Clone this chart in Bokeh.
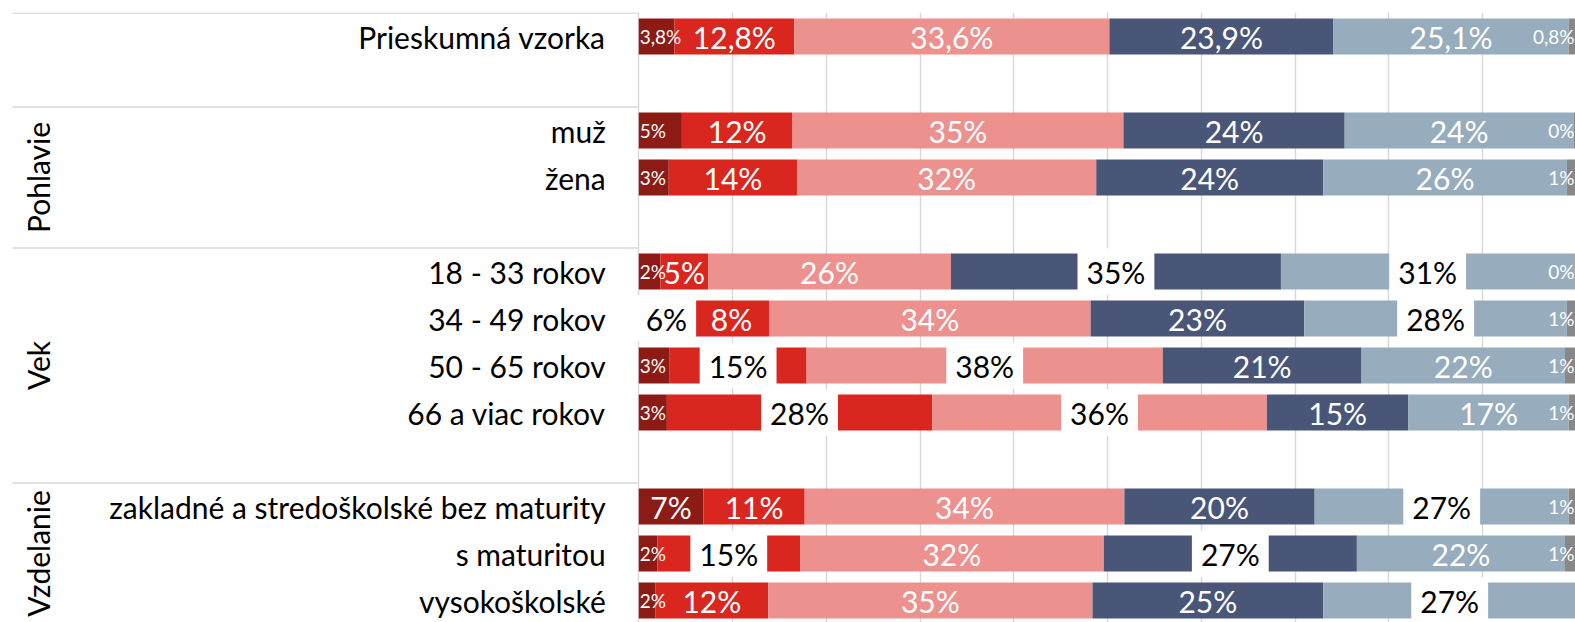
import math
from bokeh.plotting import figure
from bokeh.models import Range1d, Grid, FixedTicker
from bokeh.core.properties import value
from bokeh.embed import file_html
from bokeh.resources import INLINE

# ---------------- data ----------------
categories = [
    "Prieskumná vzorka",
    "muž", "žena",
    "18 - 33 rokov", "34 - 49 rokov", "50 - 65 rokov", "66 a viac rokov",
    "zakladné a stredoškolské bez maturity", "s maturitou", "vysokoškolské",
]
group_names = ["", "Pohlavie", "Vek", "Vzdelanie"]
group_sizes = [1, 2, 4, 3]

series_1 = [3.8, 4.6, 3.2, 2.3, 5.9, 3.3, 3.0, 6.9, 2.0, 1.8]
series_2 = [12.8, 11.8, 13.7, 5.1, 8.0, 14.6, 28.3, 10.8, 15.2, 12.0]
series_3 = [33.6, 35.3, 31.9, 25.9, 34.3, 38.0, 35.7, 34.1, 32.4, 34.6]
series_4 = [23.9, 23.6, 24.2, 35.2, 22.8, 21.2, 15.1, 20.3, 27.0, 24.6]
series_5 = [25.1, 24.4, 26.0, 31.3, 28.0, 21.7, 17.1, 27.1, 22.2, 27.0]
series_6 = [0.8, 0.3, 1.0, 0.2, 1.0, 1.2, 0.8, 0.8, 1.2, 0.0]
label_decimals = [1, 0, 0, 0, 0, 0, 0, 0, 0, 0]

# labels shown in black on a white box: (row index, series index)
boxed_labels = [(3, 3), (3, 4), (4, 0), (4, 4), (5, 1), (5, 2), (6, 1), (6, 2),
                (7, 4), (8, 1), (8, 3), (9, 4)]

series = [series_1, series_2, series_3, series_4, series_5, series_6]
colors = ["#8C1A15", "#D9261F", "#EC918E", "#4A5677", "#97ADBD", "#888888"]

# ---------------- layout ----------------
W, H = 1575, 622
PX = 9.375            # pixels per percent
LEFT_PX = 638.25      # width of the label area
SLOT = 47.0           # pixels per row slot
TOP = 12
X_START = -LEFT_PX / PX
X_END = (W - LEFT_PX) / PX
Y_START = -24.0 / SLOT
Y_END = Y_START + (H - TOP) / SLOT

slots, spans = [], []
s = 0
for gi, n in enumerate(group_sizes):
    slots += list(range(s, s + n))
    end = s + n + (1 if gi < len(group_sizes) - 1 else 0)
    spans.append((s - 0.5, end - 0.5))
    s = end

p = figure(width=W, height=H, x_range=Range1d(X_START, X_END),
           y_range=Range1d(Y_END, Y_START), x_axis_type=None, y_axis_type=None,
           toolbar_location=None, output_backend="svg",
           min_border_left=0, min_border_right=0, min_border_top=TOP,
           min_border_bottom=0, outline_line_color=None,
           background_fill_color="white", border_fill_color="white")

grid = Grid(dimension=0, ticker=FixedTicker(ticks=[0, 10, 20, 30, 40, 50, 60, 70, 80, 90]),
            grid_line_color="#D9D9D9", grid_line_width=1.5)
p.add_layout(grid)

# separators of the category groups
sep_y = [a for a, b in spans]
p.segment(x0=[X_START + 12 / PX] * len(sep_y), x1=[0] * len(sep_y), y0=sep_y, y1=sep_y,
          line_color="#D9D9D9", line_width=1.5)

# bars
cum = [0.0] * len(categories)
big, small_l, small_r, boxed = ([], [], []), ([], [], []), ([], [], []), ([], [], [])
for k, vals in enumerate(series):
    left = list(cum)
    right = [a + b for a, b in zip(cum, vals)]
    p.hbar(y=slots, left=left, right=right, height=36 / SLOT, fill_color=colors[k],
           line_color=None)
    for r, v in enumerate(vals):
        if v <= 0:
            continue
        if label_decimals[r]:
            txt = f"{v:.{label_decimals[r]}f}".replace(".", ",") + "%"
        else:
            txt = f"{round(v)}%"
        c = (left[r] + right[r]) / 2
        if (r, k) in boxed_labels:
            tgt = boxed
        elif k in (0, 5) and v < 6:
            if k == 0:
                tgt, c = small_l, 0
            else:
                tgt, c = small_r, X_END
        else:
            tgt = big
        tgt[0].append(c); tgt[1].append(slots[r]); tgt[2].append(txt)
    cum = right

font = value("Lato")
BIG = value("30px")
SMALL = value("19px")
p.text(x=big[0], y=big[1], text=big[2], text_align="center", text_baseline="middle",
       text_color="white", text_font=font, text_font_size=BIG)
p.text(x=small_l[0], y=small_l[1], text=small_l[2], text_align="left",
       text_baseline="middle", x_offset=1, text_color="white", text_font=font,
       text_font_size=SMALL)
p.text(x=small_r[0], y=small_r[1], text=small_r[2], text_align="right",
       text_baseline="middle", x_offset=-1, text_color="white", text_font=font,
       text_font_size=SMALL)
p.text(x=boxed[0], y=boxed[1], text=boxed[2], text_align="center", text_baseline="middle",
       text_color="black", text_font=font, text_font_size=BIG,
       background_fill_color="white", padding=dict(x=9, y=5))

# category labels
p.text(x=[0] * len(categories), y=slots, text=categories, x_offset=-33,
       text_align="right", text_baseline="middle", text_color="black",
       text_font=font, text_font_size=BIG)

# group labels (rotated)
gl = [(n, (a + b) / 2) for n, (a, b) in zip(group_names, spans) if n]
p.text(x=[X_START] * len(gl), y=[g[1] for g in gl], text=[g[0] for g in gl],
       x_offset=37, angle=math.pi / 2, text_align="center", text_baseline="middle",
       text_color="black", text_font=font, text_font_size=BIG)

open("out.html", "w").write(file_html(p, INLINE))
